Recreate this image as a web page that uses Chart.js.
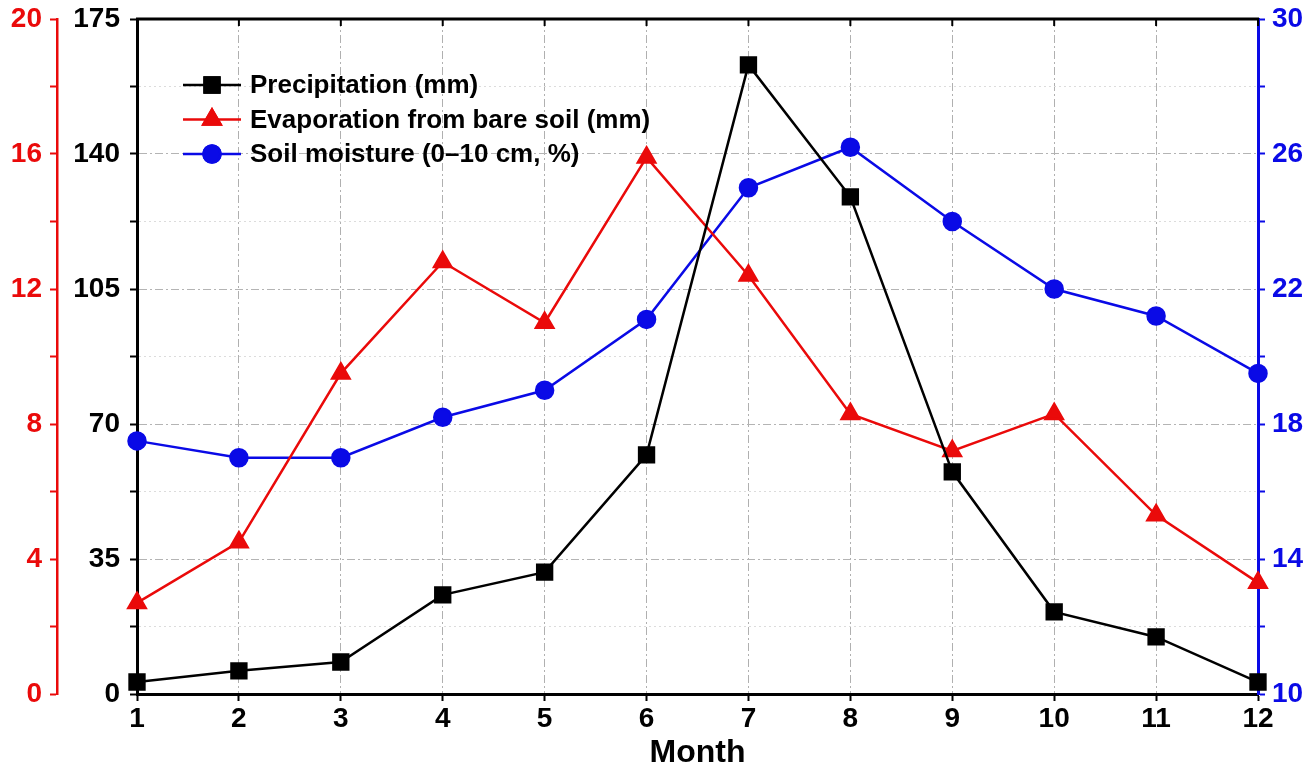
<!DOCTYPE html>
<html>
<head>
<meta charset="utf-8">
<script src="https://cdn.jsdelivr.net/npm/chart.js@4/dist/chart.umd.min.js"></script>
<style>
  html, body { margin: 0; padding: 0; background: #fff; }
  #wrap { width: 1315px; height: 771px; position: relative; }
</style>
</head>
<body>
<div id="wrap"><canvas id="climateChart"></canvas></div>
<script>
// Dữ liệu theo tháng
const months = ["1", "2", "3", "4", "5", "6", "7", "8", "9", "10", "11", "12"];
const precipitation = [3.1, 6.0, 8.3, 25.7, 31.6, 62.0, 163.1, 128.9, 57.6, 21.3, 14.8, 3.1];
const evaporation = [2.7, 4.5, 9.5, 12.8, 11.0, 15.9, 12.4, 8.3, 7.2, 8.3, 5.3, 3.3];
const soilMoisture = [17.5, 17.0, 17.0, 18.2, 19.0, 21.1, 25.0, 26.2, 24.0, 22.0, 21.2, 19.5];

// Khoảng trục
const precipRange = [0, 175, 17.5];
const evapRange = [0, 20, 2];
const moistRange = [10, 30, 2];

const seriesNames = ["Precipitation (mm)", "Evaporation from bare soil (mm)", "Soil moisture (0\u201310 cm, %)"];

const RED = "#ea0a0a";
const BLUE = "#0a0ae6";
const FONT = "'Liberation Sans', Arial, sans-serif";

// Khung trên với vạch chia hướng vào trong
const topFrame = {
    id: "topFrame",
    beforeDatasetsDraw(chart) {
        const { ctx, chartArea } = chart;
        const xs = chart.scales.x;
        ctx.save();
        ctx.strokeStyle = "#000";
        ctx.lineWidth = 3;
        ctx.beginPath();
        ctx.moveTo(chartArea.left - 1, chartArea.top);
        ctx.lineTo(chartArea.right + 1, chartArea.top);
        ctx.stroke();
        ctx.lineWidth = 2;
        xs.ticks.forEach((t, i) => {
            const px = xs.getPixelForTick(i);
            ctx.beginPath();
            ctx.moveTo(px, chartArea.top);
            ctx.lineTo(px, chartArea.top + 7);
            ctx.stroke();
        });
        ctx.restore();
    }
};

// Chú giải vẽ tay: đường + ký hiệu
const lineLegend = {
    id: "lineLegend",
    afterDraw(chart) {
        const { ctx, chartArea } = chart;
        const x0 = chartArea.left + 46;
        const y0 = chartArea.top + 66;
        ctx.save();
        chart.data.datasets.forEach((ds, i) => {
            const y = y0 + i * 34.5;
            ctx.strokeStyle = ds.borderColor;
            ctx.lineWidth = ds.borderWidth;
            ctx.beginPath();
            ctx.moveTo(x0, y);
            ctx.lineTo(x0 + 58, y);
            ctx.stroke();
            Chart.helpers.drawPoint(ctx, {
                pointStyle: ds.pointStyle,
                radius: ds.pointRadius,
                rotation: 0,
                borderWidth: 1
            }, x0 + 29, y);
            ctx.fillStyle = ds.backgroundColor;
            ctx.strokeStyle = ds.borderColor;
            ctx.fill();
            ctx.stroke();
            ctx.fillStyle = "#000";
            ctx.font = "bold 26px " + FONT;
            ctx.textBaseline = "middle";
            ctx.textAlign = "left";
            ctx.fillText(ds.label, x0 + 67, y + 1);
        });
        ctx.restore();
    }
};

// Nhãn trục y: chiều cao dòng nhỏ để vùng vẽ bắt đầu sát mép trên
const yTickFont = { family: FONT, size: 28, weight: "bold", lineHeight: 0.6 };

const ctx = document.getElementById("climateChart").getContext("2d");
new Chart(ctx, {
    type: "line",
    data: {
        labels: months,
        datasets: [
            {
                label: seriesNames[0],
                data: precipitation,
                yAxisID: "yP",
                borderColor: "#000",
                backgroundColor: "#000",
                borderWidth: 2.5,
                pointStyle: "rect",
                pointRadius: 10.5,
                pointHoverRadius: 10.5
            },
            {
                label: seriesNames[1],
                data: evaporation,
                yAxisID: "yE",
                borderColor: RED,
                backgroundColor: RED,
                borderWidth: 2.5,
                pointStyle: "triangle",
                pointRadius: 10,
                pointHoverRadius: 10
            },
            {
                label: seriesNames[2],
                data: soilMoisture,
                yAxisID: "yM",
                borderColor: BLUE,
                backgroundColor: BLUE,
                borderWidth: 2.5,
                pointStyle: "circle",
                pointRadius: 8.5,
                pointHoverRadius: 8.5
            }
        ]
    },
    options: {
        responsive: true,
        maintainAspectRatio: false,
        animation: false,
        layout: { padding: { top: 19, left: 0, right: 0, bottom: 0 } },
        plugins: {
            legend: { display: false },
            tooltip: { enabled: false }
        },
        scales: {
            x: {
                type: "category",
                offset: false,
                afterFit: (s) => { s.height = 77; },
                grid: {
                    color: "#b0b0b0",
                    lineWidth: 1,
                    tickLength: 7,
                    tickWidth: 2,
                    tickColor: "#000"
                },
                border: { display: true, color: "#000", width: 3, dash: [8, 3, 2, 3] },
                ticks: {
                    color: "#000",
                    padding: 1,
                    maxRotation: 0,
                    autoSkip: false,
                    font: { family: FONT, size: 28, weight: "bold" }
                },
                title: {
                    display: true,
                    text: "Month",
                    color: "#000",
                    padding: { top: 0, bottom: 0 },
                    font: { family: FONT, size: 32, weight: "bold", lineHeight: 1.1 }
                }
            },
            yP: {
                type: "linear",
                position: "left",
                weight: 0,
                min: precipRange[0],
                max: precipRange[1],
                afterFit: (s) => { s.width = 80; },
                grid: {
                    color: (c) => (c.index % 2 === 0 ? "#b4b4b4" : "#dcdcdc"),
                    lineWidth: 1,
                    tickLength: 7,
                    tickWidth: 2,
                    tickColor: "#000"
                },
                border: {
                    display: true,
                    color: "#000",
                    width: 3,
                    dash: (c) => (c.index % 2 === 0 ? [8, 3, 2, 3] : [2, 3])
                },
                ticks: {
                    stepSize: precipRange[2],
                    autoSkip: false,
                    color: "#000",
                    padding: 10,
                    font: yTickFont,
                    callback: (v, i) => (i % 2 === 0 ? String(v) : "")
                }
            },
            yE: {
                type: "linear",
                position: "left",
                weight: 1,
                min: evapRange[0],
                max: evapRange[1],
                afterFit: (s) => { s.width = 57; },
                grid: {
                    drawOnChartArea: false,
                    tickLength: 7,
                    tickWidth: 2,
                    tickColor: RED
                },
                border: { display: true, color: RED, width: 2.5 },
                ticks: {
                    stepSize: evapRange[2],
                    autoSkip: false,
                    color: RED,
                    padding: 8,
                    font: yTickFont,
                    callback: (v, i) => (i % 2 === 0 ? String(v) : "")
                }
            },
            yM: {
                type: "linear",
                position: "right",
                min: moistRange[0],
                max: moistRange[1],
                afterFit: (s) => { s.width = 57; },
                grid: {
                    drawOnChartArea: false,
                    tickLength: 7,
                    tickWidth: 2,
                    tickColor: BLUE
                },
                border: { display: true, color: BLUE, width: 3 },
                ticks: {
                    stepSize: moistRange[2],
                    autoSkip: false,
                    color: BLUE,
                    padding: 7,
                    font: yTickFont,
                    callback: (v, i) => (i % 2 === 0 ? String(v) : "")
                }
            }
        }
    },
    plugins: [topFrame, lineLegend]
});
</script>
</body>
</html>
